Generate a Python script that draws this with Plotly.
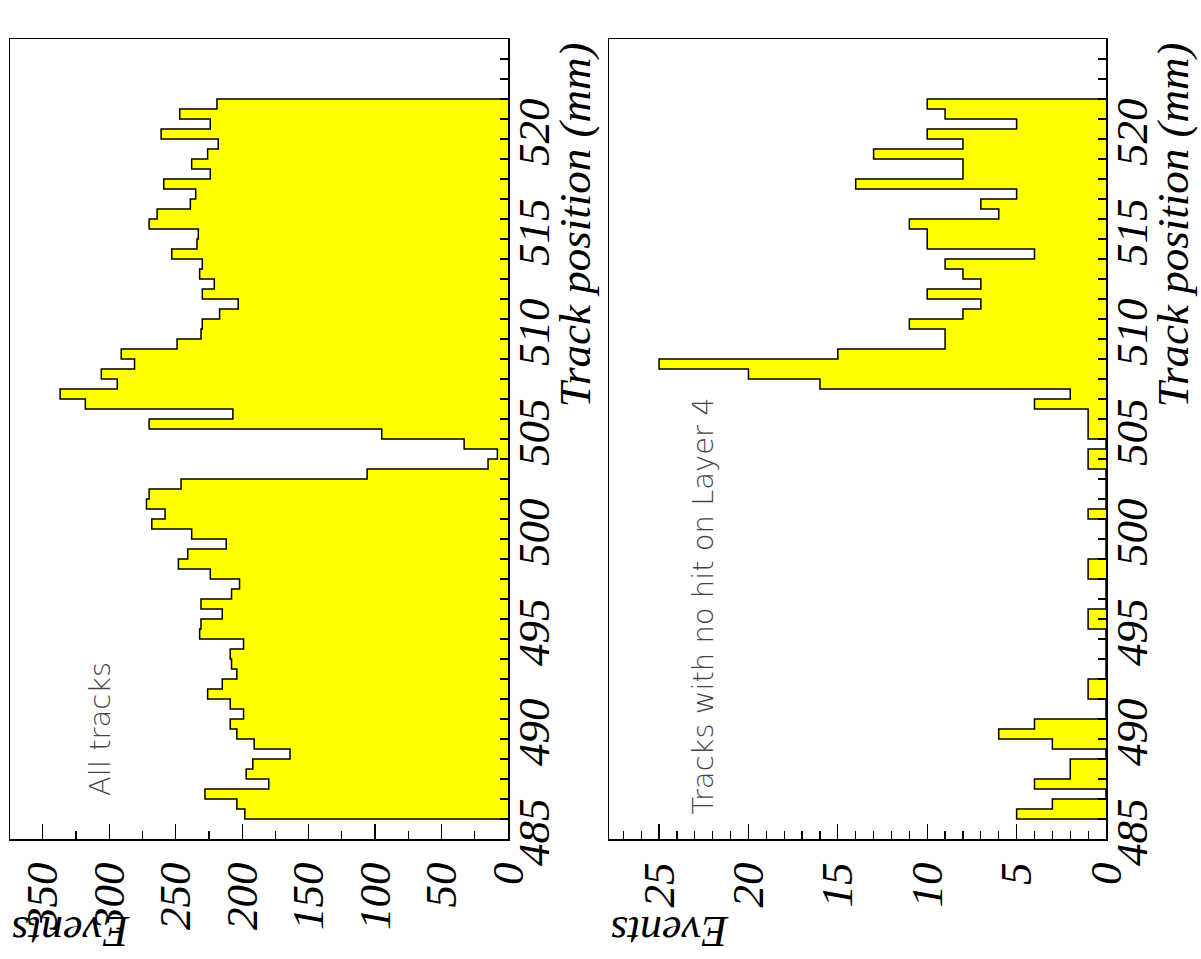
import plotly.graph_objects as go

# ---------------- data ----------------
track_lo = 486.0          # first bin lower edge (mm)
track_bin = 0.5           # bin width (mm)

all_tracks = [198, 204, 228, 180, 197, 192, 164, 191, 204, 209,
              199, 209, 226, 215, 204, 208, 209, 199, 232, 231,
              215, 231, 208, 202, 224, 248, 241, 212, 238, 268,
              258, 272, 270, 246, 106, 15, 8, 33, 95, 270,
              207, 318, 337, 294, 306, 281, 291, 249, 231, 230,
              217, 203, 230, 221, 232, 230, 253, 234, 233, 270,
              264, 239, 235, 259, 224, 238, 226, 218, 261, 224,
              247, 219]

no_hit_layer4 = [5, 3, 0, 4, 2, 2, 0, 3, 6, 4,
                 0, 0, 1, 1, 0, 0, 0, 0, 0, 1,
                 1, 0, 0, 0, 1, 1, 0, 0, 0, 0,
                 1, 0, 0, 0, 0, 1, 1, 0, 1, 1,
                 1, 4, 2, 16, 20, 25, 15, 9, 9, 11,
                 8, 7, 10, 7, 8, 9, 4, 10, 10, 11,
                 6, 7, 5, 14, 8, 8, 13, 8, 10, 5,
                 9, 10]

track_ticks = [485, 490, 495, 500, 505, 510, 515, 520, 525]
events_ticks_all = [0, 50, 100, 150, 200, 250, 300, 350]
events_ticks_l4 = [0, 5, 10, 15, 20, 25]

panel_texts = ["All tracks", "Tracks with no hit on Layer 4"]
x_title = "Track position (mm)"
y_title = "Events"

# ---------------- layout geometry ----------------
W, H = 1201, 959
def px(x):
    return x / W
def py(y):
    return 1 - y / H

FILL = "#ffff00"
SERIF = "Liberation Serif, Times New Roman, Times, serif"
TICKFONT = dict(family=SERIF, size=45, style="italic", color="black")
TITLEFONT = dict(family=SERIF, size=45, style="italic", color="black")
LABELFONT = dict(family="DejaVu Sans", size=29, weight=200, color="#444444")

fig = go.Figure()

def add_hist(values, xa, ya):
    n = len(values)
    edges = [track_lo + i * track_bin for i in range(n + 1)]
    centers = [track_lo + (i + 0.5) * track_bin for i in range(n)]
    fig.add_trace(go.Bar(orientation="h", y=centers, x=values, width=track_bin,
                         marker=dict(color=FILL, line=dict(width=0.6, color=FILL)),
                         xaxis=xa, yaxis=ya, showlegend=False, hoverinfo="skip"))
    xs = [0] + list(values) + [0]
    ys = [edges[0]] + edges[1:] + [edges[-1]]
    fig.add_trace(go.Scatter(x=xs, y=ys, mode="lines",
                             line=dict(color="black", width=1.5, shape="hv"),
                             xaxis=xa, yaxis=ya, showlegend=False, hoverinfo="skip"))

add_hist(all_tracks, "x", "y")
add_hist(no_hit_layer4, "x2", "y2")

frame_top, frame_bot = 39, 839
panels = [
    dict(l=10, r=508, xmax=374.7, ticks=events_ticks_all, minor=25, text_x=100, text_y=798),
    dict(l=609, r=1106, xmax=27.8, ticks=events_ticks_l4, minor=1, text_x=702, text_y=817),
]

layout = dict(width=W, height=H, margin=dict(l=0, r=0, t=0, b=0, autoexpand=False),
              paper_bgcolor="white", plot_bgcolor="white", bargap=0,
              annotations=[])

for i, p in enumerate(panels):
    sfx = "" if i == 0 else str(i + 1)
    layout["xaxis" + sfx] = dict(
        domain=[px(p["l"]), px(p["r"])], range=[p["xmax"], 0], automargin=False,
        anchor="y" + sfx, showgrid=False, zeroline=False,
        showline=True, linecolor="black", linewidth=1.5, mirror=True,
        tickmode="array", tickvals=p["ticks"], ticktext=[str(t) for t in p["ticks"]],
        ticks="inside", ticklen=15, tickwidth=1.2, tickcolor="black",
        minor=dict(ticks="inside", ticklen=8, dtick=p["minor"], tick0=0,
                   tickwidth=1.2, tickcolor="black", showgrid=False),
        tickangle=-90, tickfont=TICKFONT, ticklabelstandoff=4, fixedrange=True,
    )
    layout["yaxis" + sfx] = dict(
        domain=[py(frame_bot), py(frame_top)], range=[485, 525], automargin=False,
        anchor="x" + sfx, side="right", showgrid=False, zeroline=False,
        showline=True, linecolor="black", linewidth=1.5, mirror=True,
        tickmode="array", tickvals=track_ticks, ticktext=[str(t) for t in track_ticks],
        ticks="inside", ticklen=8, tickwidth=1.2, tickcolor="black",
        minor=dict(ticks="inside", ticklen=8, dtick=1, tick0=485,
                   tickwidth=1.2, tickcolor="black", showgrid=False),
        tickangle=-90, tickfont=TICKFONT, ticklabelstandoff=-15, fixedrange=True,
    )
    # axis title along the track axis (rotated, right-aligned at top)
    layout["annotations"].append(dict(
        text=x_title, xref="paper", yref="paper",
        x=px(p["r"] + 66), y=py(41), xanchor="center", yanchor="top",
        textangle=-90, showarrow=False, font=TITLEFONT))
    # upside-down "Events"
    layout["annotations"].append(dict(
        text=y_title, xref="paper", yref="paper",
        x=px(p["l"] + 61), y=py(932), xanchor="center", yanchor="middle",
        textangle=180, showarrow=False, font=dict(TITLEFONT, size=44)))
    # panel label
    layout["annotations"].append(dict(
        text=panel_texts[i], xref="paper", yref="paper",
        x=px(p["text_x"]), y=py(p["text_y"]), xanchor="center", yanchor="bottom",
        textangle=-90, showarrow=False, font=LABELFONT))

fig.update_layout(**layout)
# remove the default 8px page margin so the figure sits at the window origin
fig.write_html("out.html",
               config={"displayModeBar": False, "staticPlot": True},
               post_script="document.body.style.margin='0';document.body.style.overflow='hidden';")
